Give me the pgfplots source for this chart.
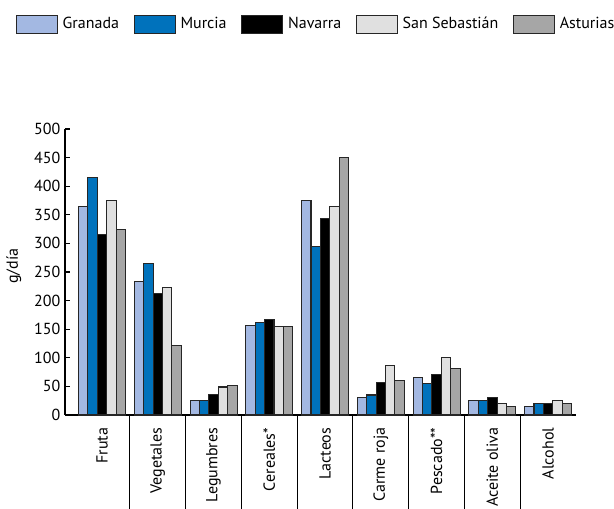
\documentclass[border=0pt]{standalone}
\usepackage{pgfplots}
\pgfplotsset{compat=1.18}
\usepackage{pgfplotstable}
\usepackage{fontspec}
\setmainfont{PT Sans}

\definecolor{granada}{RGB}{163,184,226}
\definecolor{murcia}{RGB}{0,114,188}
\definecolor{navarra}{RGB}{0,0,0}
\definecolor{sebastian}{RGB}{224,224,224}
\definecolor{asturias}{RGB}{166,166,166}

\pgfplotstableread{
x gra mur nav seb ast
0 365 415 315 375 325
1 233 265 213 223 121
2 25 25 36 49 51
3 157 162 167 154 154
4 375 294 344 365 450
5 31 35 56 86 61
6 66 55 71 101 81
7 25 25 31 20 15
8 15 20 20 25 20
}\data

\begin{document}
\begin{tikzpicture}
\useasboundingbox (-48.75pt,-70.5pt) rectangle (411.75pt,311.25pt);
\begin{axis}[
  at={(0,0)}, anchor=south west,
  scale only axis, width=383.25pt, height=214.5pt,
  clip=false,
  ybar=0pt, bar width=7.05pt,
  xmin=-0.664, xmax=8.5, ymin=0, ymax=500,
  axis lines=left, axis line style={-, line width=0.8pt},
  font=\fontsize{12}{14}\selectfont,
  /pgf/number format/assume math mode=true,
  xtick={0,...,8},
  xticklabels={Fruta,Vegetales,Legumbres,Cereales*,Lacteos,Carme roja,Pescado**,Aceite oliva,Alcohol},
  xticklabel style={rotate=90, anchor=east, xshift=-6pt},
  x tick style={draw=none},
  ytick={0,50,...,500},
  tick align=inside, major tick length=3.5pt,
  y tick style={line width=0.8pt, black},
  ylabel={g/día},
  ylabel style={at={(axis description cs:-0.1,0.52)}, anchor=center},
  legend columns=-1,
  legend style={at={(axis description cs:-0.1043,1.41)}, anchor=north west,
    draw=none, font=\fontsize{12}{14}\selectfont,
    /tikz/every odd column/.append style={column sep=1.5pt},
    /tikz/every even column/.append style={column sep=9pt}},
  legend image code/.code={\draw[#1] (0pt,-6.75pt) rectangle (30.75pt,6.75pt);},
  every axis plot/.append style={draw=black!85, line width=0.8pt},
]
\addplot[fill=granada] table[x=x, y=gra] {\data};
\addplot[fill=murcia] table[x=x, y=mur] {\data};
\addplot[fill=navarra] table[x=x, y=nav] {\data};
\addplot[fill=sebastian] table[x=x, y=seb] {\data};
\addplot[fill=asturias] table[x=x, y=ast] {\data};
\legend{Granada,Murcia,Navarra,San Sebastián,Asturias}
% category separators below the axis
\pgfplotsinvokeforeach{0.5,1.5,...,7.5}{
  \draw[line width=0.8pt] (axis cs:#1,0) -- ++(0pt,-70.5pt);
}
\end{axis}
\end{tikzpicture}
\end{document}
